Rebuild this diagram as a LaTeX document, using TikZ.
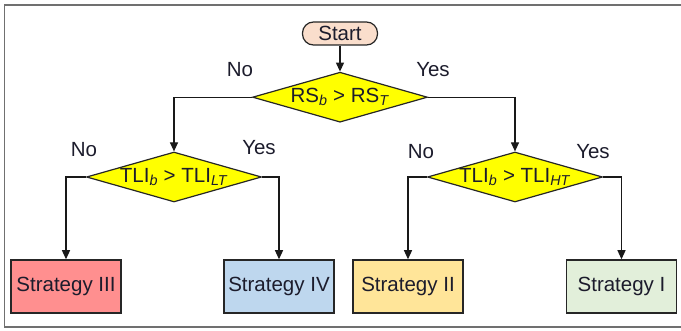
\documentclass[tikz,border=0pt]{standalone}
\usepackage{fontspec}
\setmainfont{Liberation Sans}
\definecolor{fcpeach}{RGB}{250,222,204}
\definecolor{fcyellow}{RGB}{255,255,0}
\definecolor{fcred}{RGB}{255,143,143}
\definecolor{fcblue}{RGB}{190,215,238}
\definecolor{fcorange}{RGB}{255,229,153}
\definecolor{fcgreen}{RGB}{226,239,218}
\definecolor{fcframe}{RGB}{112,112,112}
\definecolor{fctext}{RGB}{28,28,44}
\usetikzlibrary{shapes.geometric, arrows.meta, positioning}
\tikzset{
  startbox/.style={rectangle, rounded corners=11pt, draw=black!85, line width=1.2pt,
                   fill=fcpeach, minimum width=75pt, minimum height=23pt,
                   inner sep=0pt, font=\fontsize{20.5}{24}\selectfont, text=fctext},
  decision/.style={diamond, draw=black!85, line width=1.2pt, fill=fcyellow,
                   aspect=3.5, inner sep=0pt, minimum width=175pt, minimum height=50pt,
                   font=\fontsize{20.5}{24}\selectfont, text=fctext},
  stratbox/.style={rectangle, draw=black!85, line width=1.5pt, fill=#1,
                   minimum width=110pt, minimum height=53pt, inner sep=0pt,
                   font=\fontsize{20.5}{24}\selectfont, text=fctext},
  arrow/.style={-{Triangle[length=9pt,width=8pt]}, line width=1.2pt, color=black!90},
  lbl/.style={font=\fontsize{20.5}{24}\selectfont, text=fctext, inner sep=0pt},
}

\begin{document}
\begin{tikzpicture}[x=1pt, y=-1pt]
  \useasboundingbox (0,0) rectangle (681,331);
  % frame
  \draw[fcframe, line width=1.5pt] (681,5) -- (4.5,5) -- (4.5,327) -- (681,327);

  \node[startbox] (start) at (340,33.5) {Start};
  \node[decision, below=26pt of start] (rs) {RS\textsubscript{\textit{b}} > RS\textsubscript{\textit{T}}};
  \node[decision] (tlil) at (174,177) {TLI\textsubscript{\textit{b}} > TLI\textsubscript{\textit{LT}}};
  \node[decision] (tlih) at (515,177) {TLI\textsubscript{\textit{b}} > TLI\textsubscript{\textit{HT}}};

  \node[stratbox=fcred] (s3) at (66,286.5) {Strategy III};
  \node[stratbox=fcblue] (s4) at (279,286.5) {Strategy IV};
  \node[stratbox=fcorange] (s2) at (408,286.5) {Strategy II};
  \node[stratbox=fcgreen] (s1) at (621.5,286.5) {Strategy I};

  % branch labels
  \node[lbl] (rsno) at (240,70) {No};
  \node[lbl] (rsyes) at (433,70) {Yes};
  \node[lbl] (lno) at (84,150) {No};
  \node[lbl] (lyes) at (259,148) {Yes};
  \node[lbl] (hno) at (421,152) {No};
  \node[lbl] (hyes) at (593,152) {Yes};

  \draw[arrow] (start) -- (rs);
  \draw[arrow] (rs.west) -| (tlil);
  \draw[arrow] (rs.east) -| (tlih);
  \draw[arrow] (tlil.west) -| (s3);
  \draw[arrow] (tlil.east) -| (s4);
  \draw[arrow] (tlih.west) -| (s2);
  \draw[arrow] (tlih.east) -| (s1);
\end{tikzpicture}
\end{document}
